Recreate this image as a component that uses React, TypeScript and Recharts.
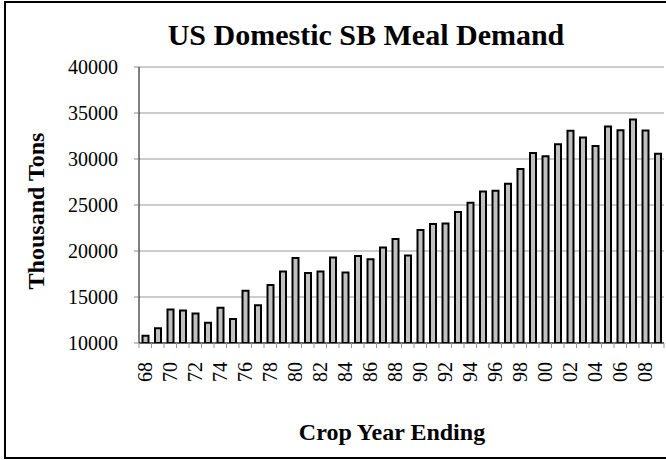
import { Bar, BarChart, CartesianGrid, XAxis, YAxis } from 'recharts';

const YEARS = [
  '68', '69', '70', '71', '72', '73', '74', '75', '76', '77',
  '78', '79', '80', '81', '82', '83', '84', '85', '86', '87',
  '88', '89', '90', '91', '92', '93', '94', '95', '96', '97',
  '98', '99', '00', '01', '02', '03', '04', '05', '06', '07',
  '08', '09',
];

// thousand tons
const DEMAND = [
  10800, 11600, 13650, 13540, 13200, 12200, 13830, 12600, 15670, 14100,
  16300, 17770, 19250, 17600, 17770, 19290, 17660, 19470, 19100, 20370,
  21300, 19500, 22290, 22940, 23000, 24240, 25250, 26480, 26550, 27310,
  28900, 30640, 30310, 31610, 33060, 32340, 31400, 33530, 33130, 34290,
  33100, 30570,
];

const Y_TICKS = [10000, 15000, 20000, 25000, 30000, 35000, 40000];

const data = YEARS.map((year, i) => ({ year, value: DEMAND[i] }));

const FONT = "'Liberation Serif', 'Times New Roman', serif";
const W = 666;
const H = 460;
const MARGIN = { top: 67, right: 2, bottom: 57, left: 0 };
const Y_AXIS_W = 139;
const BAND = (W - MARGIN.left - MARGIN.right - Y_AXIS_W) / YEARS.length;

function YearTick(props: any) {
  const { x, y, payload, index } = props;
  const left = x - BAND / 2;
  const showLabel = index % 2 === 0;
  return (
    <g>
      <line x1={left} y1={y} x2={left} y2={y + 5} stroke='#999' />
      {index === YEARS.length - 1 && (
        <line x1={x + BAND / 2} y1={y} x2={x + BAND / 2} y2={y + 5} stroke='#999' />
      )}
      {showLabel && (
        <text
          x={x}
          y={y + 19}
          transform={`rotate(-90, ${x}, ${y + 19})`}
          textAnchor='end'
          dominantBaseline='central'
          fontFamily={FONT}
          fontSize={20}
          fill='#000'
        >
          {payload.value}
        </text>
      )}
    </g>
  );
}

export default function App() {
  return (
    <div
      style={{
        position: 'fixed',
        left: 0,
        top: 0,
        width: W,
        height: H,
        overflow: 'hidden',
        background: '#fff',
        fontFamily: FONT,
      }}
    >
      <div
        style={{
          position: 'absolute',
          left: 4,
          top: 1,
          width: 720,
          height: 454,
          border: '2px solid #000',
        }}
      />
      <div
        style={{
          position: 'absolute',
          left: 0,
          top: 18,
          width: 732,
          textAlign: 'center',
          fontWeight: 'bold',
          fontSize: 30,
        }}
      >
        US Domestic SB Meal Demand
      </div>
      <div
        style={{
          position: 'absolute',
          left: 36,
          top: 211,
          transform: 'translate(-50%, -50%) rotate(-90deg)',
          whiteSpace: 'nowrap',
          fontWeight: 'bold',
          fontSize: 24,
        }}
      >
        Thousand Tons
      </div>
      <div
        style={{
          position: 'absolute',
          left: 392,
          top: 432,
          transform: 'translate(-50%, -50%)',
          whiteSpace: 'nowrap',
          fontWeight: 'bold',
          fontSize: 24,
        }}
      >
        Crop Year Ending
      </div>
      <div style={{ position: 'absolute', left: 0, top: 0 }}>
        <BarChart
          width={W}
          height={H}
          data={data}
          margin={MARGIN}
          barCategoryGap='28%'
        >
          <CartesianGrid vertical={false} stroke='#999' />
          <XAxis
            dataKey='year'
            interval={0}
            height={60}
            tickLine={false}
            tickSize={0}
            tickMargin={0}
            axisLine={{ stroke: '#000' }}
            tick={<YearTick />}
          />
          <YAxis
            width={Y_AXIS_W}
            domain={[10000, 40000]}
            ticks={Y_TICKS}
            allowDataOverflow
            tickSize={5}
            tickMargin={16}
            tickLine={{ stroke: '#888' }}
            axisLine={{ stroke: '#000' }}
            tick={{ fill: '#000', fontSize: 20, fontFamily: FONT }}
          />
          <YAxis
            yAxisId='right'
            orientation='right'
            width={0}
            domain={[10000, 40000]}
            tick={false}
            tickLine={false}
            axisLine={{ stroke: '#999' }}
          />
          <Bar
            dataKey='value'
            fill='#c0c0c0'
            stroke='#000'
            strokeWidth={2}
            isAnimationActive={false}
          />
        </BarChart>
      </div>
    </div>
  );
}
